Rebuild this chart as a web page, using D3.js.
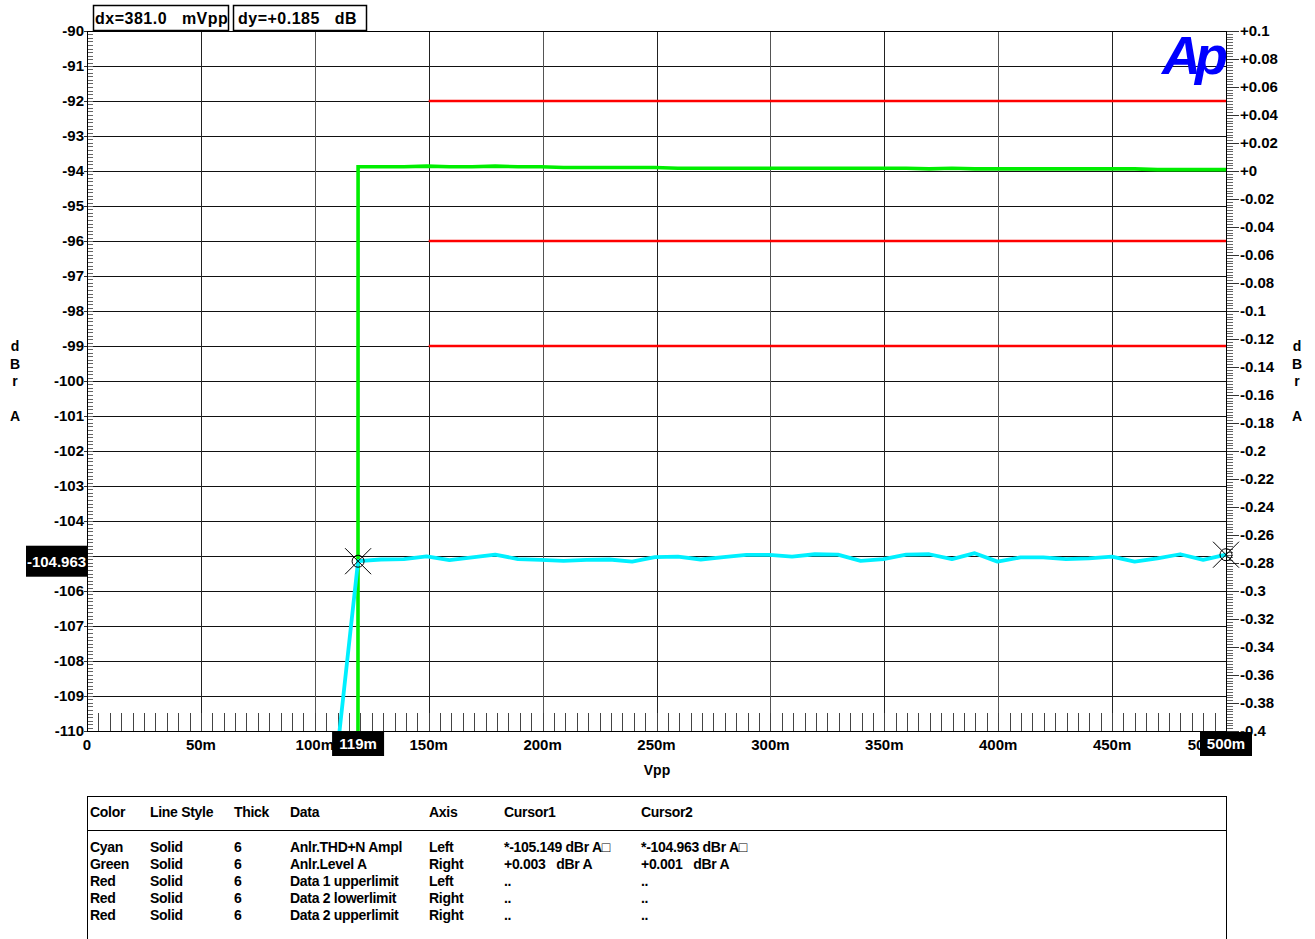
<!DOCTYPE html>
<html>
<head>
<meta charset="utf-8">
<script src="https://cdn.jsdelivr.net/npm/d3@7"></script>
<style>
  html, body { margin: 0; padding: 0; background: #fff; }
  svg { display: block; }
  text { font-family: "Liberation Sans", Arial, sans-serif; fill: #000; }
</style>
</head>
<body>
<svg id="chart" width="1315" height="939"></svg>
<script>
// ---- Sweep data (x in mVpp) ----
const sweepX = [109.0, 119.0, 129.0, 139.1, 149.1, 159.1, 169.1, 179.2, 189.2, 199.2, 209.2,
  219.3, 229.3, 239.3, 249.3, 259.4, 269.4, 279.4, 289.4, 299.5, 309.5, 319.5, 329.6, 339.6,
  349.6, 359.6, 369.7, 379.7, 389.7, 399.7, 409.8, 419.8, 429.8, 439.8, 449.9, 459.9, 469.9,
  479.9, 490.0, 500.0];

// Anlr.THD+N Ampl (dBr A, left axis)
const thdnDb = [-111.1, -105.149, -105.10, -105.09, -105.01, -105.12, -105.04, -104.96, -105.09,
  -105.11, -105.14, -105.11, -105.10, -105.16, -105.03, -105.02, -105.10, -105.03, -104.97,
  -104.97, -105.02, -104.95, -104.96, -105.14, -105.09, -104.96, -104.95, -105.09, -104.92,
  -105.16, -105.04, -105.04, -105.09, -105.07, -105.02, -105.16, -105.07, -104.95, -105.11,
  -104.963];

// Anlr.Level A (dBr A, right axis)
const levelDb = [-80, 0.003, 0.003, 0.003, 0.0035, 0.003, 0.003, 0.0035, 0.003, 0.003, 0.0025,
  0.0025, 0.0025, 0.0025, 0.0025, 0.002, 0.002, 0.002, 0.002, 0.002, 0.002, 0.002, 0.002,
  0.002, 0.002, 0.002, 0.0015, 0.002, 0.0015, 0.0015, 0.0015, 0.0015, 0.0015, 0.0015, 0.0015,
  0.0015, 0.001, 0.001, 0.001, 0.001];

// Limit lines
const limitX = [150, 500];
const data1Upper = [-99, -99];      // left axis
const data2Lower = [-0.05, -0.05];  // right axis
const data2Upper = [0.05, 0.05];    // right axis

// Cursors
const cursorX = [119, 500];
const cursorDb = [-105.149, -104.963];
const deltaXText = "dx=381.0   mVpp";
const deltaYText = "dy=+0.185   dB";

// Axis ticks
const xTicks = [0, 50, 100, 150, 200, 250, 300, 350, 400, 450, 500];
const xTickLabels = ["0", "50m", "100m", "150m", "200m", "250m", "300m", "350m", "400m", "450m", "500m"];
const leftTicks = [-90, -91, -92, -93, -94, -95, -96, -97, -98, -99, -100, -101, -102, -103,
  -104, -105, -106, -107, -108, -109, -110];
const rightTicks = [0.1, 0.08, 0.06, 0.04, 0.02, 0, -0.02, -0.04, -0.06, -0.08, -0.1, -0.12,
  -0.14, -0.16, -0.18, -0.2, -0.22, -0.24, -0.26, -0.28, -0.3, -0.32, -0.34, -0.36, -0.38, -0.4];
const rightTickLabels = ["+0.1", "+0.08", "+0.06", "+0.04", "+0.02", "+0", "-0.02", "-0.04",
  "-0.06", "-0.08", "-0.1", "-0.12", "-0.14", "-0.16", "-0.18", "-0.2", "-0.22", "-0.24",
  "-0.26", "-0.28", "-0.3", "-0.32", "-0.34", "-0.36", "-0.38", "-0.4"];

// Legend table
const legendHeaders = ["Color", "Line Style", "Thick", "Data", "Axis", "Cursor1", "Cursor2"];
const legendColor = ["Cyan", "Green", "Red", "Red", "Red"];
const legendStyle = ["Solid", "Solid", "Solid", "Solid", "Solid"];
const legendThick = ["6", "6", "6", "6", "6"];
const legendData = ["Anlr.THD+N Ampl", "Anlr.Level A", "Data 1 upperlimit", "Data 2 lowerlimit", "Data 2 upperlimit"];
const legendAxis = ["Left", "Right", "Left", "Right", "Right"];
const legendCursor1 = ["*-105.149 dBr A\u25A1", "+0.003   dBr A", "..", "..", ".."];
const legendCursor2 = ["*-104.963 dBr A\u25A1", "+0.001   dBr A", "..", "..", ".."];

// ---- Layout ----
const L = 87, R = 1226, T = 31, B = 731;
const svg = d3.select("#chart");

const x = d3.scaleLinear().domain([0, 500]).range([L, R]);
const yL = d3.scaleLinear().domain([-110, -90]).range([B, T]);
const yR = d3.scaleLinear().domain([-0.4, 0.1]).range([B, T]);

// Grid
const grid = svg.append("g");
grid.selectAll("line.h").data(leftTicks).join("line")
  .attr("x1", L).attr("x2", R)
  .attr("y1", d => Math.round(yL(d)) + 0.5).attr("y2", d => Math.round(yL(d)) + 0.5)
  .attr("stroke", "#111").attr("stroke-width", 1);
grid.selectAll("line.v").data(xTicks).join("line")
  .attr("y1", T).attr("y2", B)
  .attr("x1", d => Math.round(x(d)) + 0.5).attr("x2", d => Math.round(x(d)) + 0.5)
  .attr("stroke", (d, i) => i % 2 ? "#222" : "#555").attr("stroke-width", 1);

// Minor ticks: left (every 0.1 dB, inside), right (every 0.002, outside), bottom (every 5m)
const minor = svg.append("g").attr("stroke", "#666").attr("stroke-width", 1);
minor.selectAll("line.ml").data(d3.range(0, 201)).join("line")
  .attr("x1", L).attr("x2", L + 6)
  .attr("y1", i => Math.round(yL(-110 + i * 0.1)) + 0.5)
  .attr("y2", i => Math.round(yL(-110 + i * 0.1)) + 0.5);
minor.selectAll("line.mr").data(d3.range(0, 251)).join("line")
  .attr("x1", R).attr("x2", R + 7)
  .attr("y1", i => Math.round(yR(-0.4 + i * 0.002)) + 0.5)
  .attr("y2", i => Math.round(yR(-0.4 + i * 0.002)) + 0.5);
minor.selectAll("line.mb").data(d3.range(1, 100)).join("line")
  .attr("y1", B - 18).attr("y2", B)
  .attr("x1", i => Math.round(x(i * 5)) + 0.5)
  .attr("x2", i => Math.round(x(i * 5)) + 0.5)
  .attr("stroke", "#444");

// Major ticks
svg.append("g").selectAll("line").data(rightTicks).join("line")
  .attr("x1", R).attr("x2", R + 13)
  .attr("y1", d => Math.round(yR(d)) + 0.5).attr("y2", d => Math.round(yR(d)) + 0.5)
  .attr("stroke", "#333");
svg.append("g").selectAll("line").data(leftTicks).join("line")
  .attr("x1", L - 3).attr("x2", L)
  .attr("y1", d => Math.round(yL(d)) + 0.5).attr("y2", d => Math.round(yL(d)) + 0.5)
  .attr("stroke", "#333");

// Frame
svg.append("rect").attr("x", L + 0.5).attr("y", T + 0.5)
  .attr("width", R - L).attr("height", B - T)
  .attr("fill", "none").attr("stroke", "#000").attr("stroke-width", 1);

// Data
svg.append("clipPath").attr("id", "plotClip").append("rect")
  .attr("x", L).attr("y", T).attr("width", R - L + 1).attr("height", B - T);
const plot = svg.append("g").attr("clip-path", "url(#plotClip)");

const limitLineL = d3.line().x(d => x(d[0])).y(d => yL(d[1]));
const limitLineR = d3.line().x(d => x(d[0])).y(d => yR(d[1]));
[[data1Upper, limitLineL], [data2Lower, limitLineR], [data2Upper, limitLineR]].forEach(([vals, gen]) => {
  plot.append("path").datum(limitX.map((v, i) => [v, vals[i]]))
    .attr("d", gen).attr("fill", "none").attr("stroke", "#ff0000").attr("stroke-width", 2.4);
});

plot.append("path").datum(sweepX.map((v, i) => [v, levelDb[i]]))
  .attr("d", d3.line().x(d => x(d[0])).y(d => yR(d[1])))
  .attr("fill", "none").attr("stroke", "#00ee00").attr("stroke-width", 3.6)
  .attr("stroke-linejoin", "miter");

plot.append("path").datum(sweepX.map((v, i) => [v, thdnDb[i]]))
  .attr("d", d3.line().x(d => x(d[0])).y(d => yL(d[1])))
  .attr("fill", "none").attr("stroke", "#00f0ff").attr("stroke-width", 3.8)
  .attr("stroke-linejoin", "round");

// Cursor markers
const cur = svg.append("g").attr("stroke", "#000").attr("stroke-width", 1).attr("fill", "none");
cursorX.forEach((cx, i) => {
  const px = x(cx), py = yL(cursorDb[i]);
  cur.append("circle").attr("cx", px).attr("cy", py).attr("r", 6);
  cur.append("line").attr("x1", px - 13).attr("y1", py - 13).attr("x2", px + 13).attr("y2", py + 13);
  cur.append("line").attr("x1", px - 13).attr("y1", py + 13).attr("x2", px + 13).attr("y2", py - 13);
});

// Axis labels (the left label under the cursor readout box is covered by it)
const coveredLeft = Math.round(cursorDb[0]);
svg.append("g").selectAll("text").data(leftTicks.filter(d => d !== coveredLeft)).join("text")
  .attr("x", L - 3).attr("y", d => yL(d)).attr("dy", "0.35em")
  .attr("text-anchor", "end").attr("font-size", "15px").attr("font-weight", "bold")
  .text(d => d);
svg.append("g").selectAll("text").data(rightTicks).join("text")
  .attr("x", R + 14).attr("y", d => yR(d)).attr("dy", "0.35em")
  .attr("text-anchor", "start").attr("font-size", "15px").attr("font-weight", "bold")
  .text((d, i) => rightTickLabels[i]);
svg.append("g").selectAll("text").data(xTicks).join("text")
  .attr("x", (d, i) => i === xTicks.length - 1 ? R : x(d)).attr("y", B + 19)
  .attr("text-anchor", (d, i) => i === xTicks.length - 1 ? "end" : "middle")
  .attr("font-size", "15px").attr("font-weight", "bold")
  .text((d, i) => xTickLabels[i]);

svg.append("text").attr("x", (L + R) / 2 + 0.5).attr("y", B + 44)
  .attr("text-anchor", "middle").attr("font-size", "14px").attr("font-weight", "bold").text("Vpp");

// Vertical axis titles
[15, 1297].forEach(tx => {
  const g = svg.append("g");
  [["d", 351], ["B", 369], ["r", 386], ["A", 421]].forEach(([ch, ty]) => {
    g.append("text").attr("x", tx).attr("y", ty).attr("text-anchor", "middle")
      .attr("font-size", "14px").attr("font-weight", "bold").text(ch);
  });
});

// Cursor readout boxes on the axes
function darkBox(cx, cy, w, h, label) {
  svg.append("rect").attr("x", cx - w / 2).attr("y", cy - h / 2).attr("width", w).attr("height", h).attr("fill", "#000");
  svg.append("text").attr("x", cx).attr("y", cy).attr("dy", "0.36em").attr("text-anchor", "middle")
    .attr("font-size", "15px").attr("font-weight", "bold").style("fill", "#fff").text(label);
}
darkBox(56.5, yL(cursorDb[0]), 61, 31, cursorDb[1].toFixed(3));
darkBox(x(cursorX[0]), B + 13, 52, 24, cursorX[0] + "m");
darkBox(x(cursorX[1]), B + 13, 52, 24, cursorX[1] + "m");

// Delta readouts at top
const hdr = svg.append("g");
hdr.append("rect").attr("x", 93.5).attr("y", 5.5).attr("width", 135).attr("height", 25)
  .attr("fill", "#fff").attr("stroke", "#000").attr("stroke-width", 1.5);
hdr.append("rect").attr("x", 233.5).attr("y", 5.5).attr("width", 133).attr("height", 25)
  .attr("fill", "#fff").attr("stroke", "#000").attr("stroke-width", 1.5);
hdr.append("text").attr("x", 95).attr("y", 24).attr("font-size", "16px").attr("font-weight", "bold")
  .attr("letter-spacing", "0.5").style("white-space", "pre").text(deltaXText);
hdr.append("text").attr("x", 238).attr("y", 24).attr("font-size", "16px").attr("font-weight", "bold")
  .attr("letter-spacing", "0.5").style("white-space", "pre").text(deltaYText);

// Logo
svg.append("text").attr("x", 1162).attr("y", 74).attr("font-size", "54px")
  .attr("font-weight", "bold").attr("font-style", "italic").attr("letter-spacing", "-6")
  .style("fill", "#0000ff").text("Ap");

// Legend table
const lg = svg.append("g");
lg.append("rect").attr("x", L + 0.5).attr("y", 796.5).attr("width", R - L).attr("height", 160)
  .attr("fill", "none").attr("stroke", "#000").attr("stroke-width", 1);
lg.append("line").attr("x1", L).attr("x2", R + 1).attr("y1", 830.5).attr("y2", 830.5).attr("stroke", "#000");
const colX = [90, 150, 234, 290, 429, 504, 641];
const colData = [legendColor, legendStyle, legendThick, legendData, legendAxis, legendCursor1, legendCursor2];
legendHeaders.forEach((h, c) => {
  lg.append("text").attr("x", colX[c]).attr("y", 817).attr("font-size", "14px")
    .attr("font-weight", "bold").attr("letter-spacing", "-0.3").text(h);
  colData[c].forEach((v, r) => {
    lg.append("text").attr("x", colX[c]).attr("y", 852 + r * 17).attr("font-size", "14px")
      .attr("font-weight", "bold").attr("letter-spacing", "-0.3").style("white-space", "pre").text(v);
  });
});
</script>
</body>
</html>
